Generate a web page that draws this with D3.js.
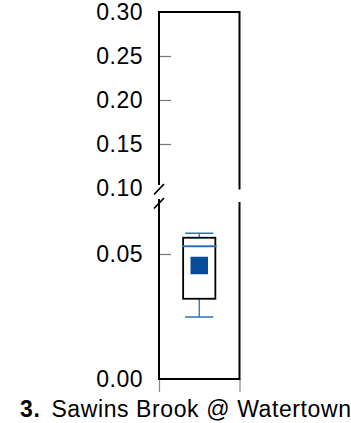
<!DOCTYPE html>
<html><head><meta charset="utf-8">
<script src="https://cdn.jsdelivr.net/npm/d3@7"></script>
<style>body{margin:0;background:#fff}svg{display:block}text{font-family:"Liberation Sans",Arial,Helvetica,sans-serif}</style>
</head><body>
<script>
const categories = ["Sawins Brook @ Watertown"];
const categoryNumbers = ["3."];
const whiskerLow = [0.0248];
const boxLow = [0.0321];
const median = [0.0531];
const boxHigh = [0.0565];
const whiskerHigh = [0.0583];
const mean = [0.0454];
const upperTicks = [0.10, 0.15, 0.20, 0.25, 0.30];
const lowerTicks = [0.00, 0.05];

(function () {
const W = 351, H = 423;
const svg = d3.select("body").append("svg").attr("width", W).attr("height", H);

const pLeft = 159, pRight = 239.5, pTop = 12, pBottom = 379;
const upperBottom = 188, lowerTop = 204;
const yU = d3.scaleLinear().domain([0.10, 0.30]).range([upperBottom, pTop]);
const yL = d3.scaleLinear().domain([0, 0.07]).range([pBottom, lowerTop]);
const x = d3.scaleBand().domain(categories).range([pLeft, pRight]);

function styleAxis(g, hideTicks) {
  g.select(".domain").remove();
  g.selectAll(".tick line").attr("stroke", "#777").attr("stroke-width", 1.2)
    .attr("display", d => hideTicks.includes(d) ? "none" : null);
  g.selectAll(".tick text").attr("font-size", 23).attr("fill", "#000").attr("letter-spacing", 0.5)
    .attr("font-family", '"Liberation Sans",Arial,Helvetica,sans-serif');
}
svg.append("g").attr("transform", `translate(${pLeft},0)`)
  .call(d3.axisLeft(yU).tickValues(upperTicks).tickFormat(d3.format(".2f")).tickSizeInner(-12).tickSizeOuter(0).tickPadding(16))
  .call(g => styleAxis(g, [0.10, 0.30]));
svg.append("g").attr("transform", `translate(${pLeft},0)`)
  .call(d3.axisLeft(yL).tickValues(lowerTicks).tickFormat(d3.format(".2f")).tickSizeInner(-12).tickSizeOuter(0).tickPadding(16))
  .call(g => styleAxis(g, [0.00]));

const xe = d3.scaleLinear().domain([0, 1]).range([pLeft, pRight]);
svg.append("g").attr("transform", `translate(0,${pBottom})`)
  .call(d3.axisBottom(xe).tickValues([0, 1]).tickSize(13).tickFormat(""))
  .call(g => { g.select(".domain").remove(); g.selectAll(".tick line").attr("stroke", "#888").attr("stroke-width", 1.2); });

const frame = svg.append("g").attr("stroke", "#000").attr("stroke-width", 2).attr("fill", "none");
frame.append("line").attr("x1", pLeft).attr("x2", pRight).attr("y1", pTop).attr("y2", pTop);
frame.append("line").attr("x1", pLeft).attr("x2", pRight).attr("y1", pBottom).attr("y2", pBottom);
frame.append("line").attr("x1", pLeft).attr("x2", pLeft).attr("y1", pTop - 1).attr("y2", 185);
frame.append("line").attr("x1", pLeft).attr("x2", pLeft).attr("y1", 199).attr("y2", pBottom + 1);
frame.append("line").attr("x1", pRight).attr("x2", pRight).attr("y1", pTop - 1).attr("y2", 189.5);
frame.append("line").attr("x1", pRight).attr("x2", pRight).attr("y1", 202).attr("y2", pBottom + 1);
frame.append("line").attr("x1", pLeft - 5).attr("y1", 194.5).attr("x2", pLeft + 5).attr("y2", 184).attr("stroke-width", 1.8);
frame.append("line").attr("x1", pLeft - 5).attr("y1", 208.5).attr("x2", pLeft + 5).attr("y2", 198).attr("stroke-width", 1.8);

const bw = x.bandwidth();
categories.forEach((c, i) => {
  const cx = x(c) + bw / 2;
  const g = svg.append("g");
  const blue = "#2e6fba";
  g.append("line").attr("x1", cx).attr("x2", cx).attr("y1", yL(whiskerHigh[i])).attr("y2", yL(boxHigh[i])).attr("stroke", blue).attr("stroke-width", 1.3);
  g.append("line").attr("x1", cx).attr("x2", cx).attr("y1", yL(boxLow[i])).attr("y2", yL(whiskerLow[i])).attr("stroke", blue).attr("stroke-width", 1.3);
  g.append("line").attr("x1", cx - bw * 0.175).attr("x2", cx + bw * 0.175).attr("y1", yL(whiskerHigh[i])).attr("y2", yL(whiskerHigh[i])).attr("stroke", blue).attr("stroke-width", 1.5);
  g.append("line").attr("x1", cx - bw * 0.175).attr("x2", cx + bw * 0.175).attr("y1", yL(whiskerLow[i])).attr("y2", yL(whiskerLow[i])).attr("stroke", blue).attr("stroke-width", 1.5);
  g.append("rect").attr("x", cx - bw * 0.2).attr("width", bw * 0.4)
    .attr("y", yL(boxHigh[i])).attr("height", yL(boxLow[i]) - yL(boxHigh[i]))
    .attr("fill", "#fff").attr("stroke", "#000").attr("stroke-width", 1.8);
  g.append("line").attr("x1", cx - bw * 0.215).attr("x2", cx + bw * 0.215).attr("y1", yL(median[i])).attr("y2", yL(median[i])).attr("stroke", blue).attr("stroke-width", 1.8);
  const s = 17.5;
  g.append("rect").attr("x", cx - s / 2).attr("y", yL(mean[i]) - s / 2).attr("width", s).attr("height", s).attr("fill", "#0a4c9c");
  const t = svg.append("text").attr("x", 20).attr("y", 416.5).attr("font-size", 23).attr("letter-spacing", 0.6).attr("fill", "#000");
  t.append("tspan").attr("font-weight", "bold").text(categoryNumbers[i]);
  t.append("tspan").attr("dx", 11).text(c);
});
})();
</script>
</body></html>
